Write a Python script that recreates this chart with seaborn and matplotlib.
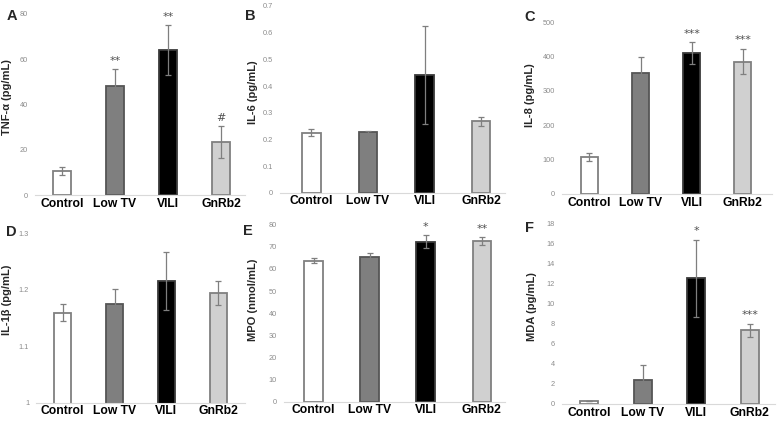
import matplotlib
matplotlib.use("Agg")
import matplotlib.pyplot as plt
import seaborn as sns
import pandas as pd

# groups shared by every panel
groups = ["Control", "Low TV", "VILI", "GnRb2"]

# A  TNF-a
tnf_mean = [10.7, 48.2, 64.1, 23.4]
tnf_err = [1.8, 7.5, 11.0, 7.0]
tnf_sig = ["", "**", "**", "#"]

# B  IL-6
il6_mean = [0.225, 0.227, 0.44, 0.268]
il6_err = [0.013, 0.006, 0.184, 0.017]
il6_sig = ["", "", "", ""]

# C  IL-8
il8_mean = [107.8, 351, 410.7, 385.4]
il8_err = [12, 48, 31, 37]
il8_sig = ["", "", "***", "***"]

# D  IL-1b
il1b_mean = [1.159, 1.175, 1.215, 1.194]
il1b_err = [0.015, 0.026, 0.051, 0.021]
il1b_sig = ["", "", "", ""]

# E  MPO
mpo_mean = [63.7, 65.4, 72.3, 72.6]
mpo_err = [1.1, 1.9, 2.9, 1.7]
mpo_sig = ["", "", "*", "**"]

# F  MDA
mda_mean = [0.3, 2.35, 12.5, 7.33]
mda_err = [0.0, 1.5, 3.85, 0.67]
mda_sig = ["", "", "*", "***"]

sns.set_style("white")
plt.rcParams['font.family'] = ['Liberation Sans', 'DejaVu Sans']

W, H = 778, 422
fig = plt.figure(figsize=(W / 100, H / 100), dpi=100)

fills = ["#ffffff", "#7f7f7f", "#000000", "#d0d0d0"]
edges = ["#808080", "#555555", "#3a3a3a", "#808080"]

# layout in pixels: left, right, top, bottom, first bar centre, bar spacing
panels = [
    dict(letter="A", ylabel="TNF-α (pg/mL)", mean=tnf_mean, err=tnf_err, sig=tnf_sig,
         ylim=(0, 80), ticks=[0, 20, 40, 60, 80],
         box=(35, 245, 14, 195), c0=62, s=53, lab=(7, 97), let=(12, 16)),
    dict(letter="B", ylabel="IL-6 (pg/mL)", mean=il6_mean, err=il6_err, sig=il6_sig,
         ylim=(0, 0.7), ticks=[0, 0.1, 0.2, 0.3, 0.4, 0.5, 0.6, 0.7],
         box=(280, 505, 6, 192.7), c0=311.3, s=56.6, lab=(253, 92), let=(250, 16)),
    dict(letter="C", ylabel="IL-8 (pg/mL)", mean=il8_mean, err=il8_err, sig=il8_sig,
         ylim=(0, 500), ticks=[0, 100, 200, 300, 400, 500],
         box=(562, 772, 22.3, 194), c0=589.3, s=51.2, lab=(530, 95), let=(530, 17)),
    dict(letter="D", ylabel="IL-1β (pg/mL)", mean=il1b_mean, err=il1b_err, sig=il1b_sig,
         ylim=(1, 1.3), ticks=[1, 1.1, 1.2, 1.3],
         box=(36, 245, 233.3, 402.7), c0=62.7, s=51.8, lab=(7, 300), let=(11, 232)),
    dict(letter="E", ylabel="MPO (nmol/mL)", mean=mpo_mean, err=mpo_err, sig=mpo_sig,
         ylim=(0, 80), ticks=[0, 10, 20, 30, 40, 50, 60, 70, 80],
         box=(284, 505, 224.7, 401.7), c0=313.5, s=56.1, lab=(253, 300), let=(248, 231)),
    dict(letter="F", ylabel="MDA (pg/mL)", mean=mda_mean, err=mda_err, sig=mda_sig,
         ylim=(0, 18), ticks=[0, 2, 4, 6, 8, 10, 12, 14, 16, 18],
         box=(562, 775, 223, 404), c0=589.3, s=53.5, lab=(532, 307), let=(530, 228)),
]

for p in panels:
    L, R, T, B = p["box"]
    ax = fig.add_axes([L / W, 1 - B / H, (R - L) / W, (B - T) / H])
    df = pd.DataFrame({"group": groups, "value": p["mean"]})
    sns.barplot(data=df, x="group", y="value", hue="group", palette=fills,
                width=0.33, errorbar=None, legend=False, ax=ax, linewidth=1.3,
                saturation=1)
    for patch, ec in zip(ax.patches, edges):
        patch.set_edgecolor(ec)
    ax.errorbar(range(len(groups)), p["mean"], yerr=p["err"], fmt="none",
                ecolor="#7f7f7f", elinewidth=0.9, capsize=2.2, capthick=0.9, zorder=5)
    tops = [m + e for m, e in zip(p["mean"], p["err"])]
    for i, lab in enumerate(p["sig"]):
        if lab:
            ax.annotate(lab, xy=(i, tops[i]), xytext=(0, 2.5), textcoords="offset points",
                        ha="center", va="bottom", fontsize=8, color="#505050",
                        family=["DejaVu Sans"])
    ax.set_xlim((L - p["c0"]) / p["s"], (R - p["c0"]) / p["s"])
    ax.set_ylim(*p["ylim"])
    ax.set_yticks(p["ticks"])
    ax.set_yticklabels([f"{t:g}" for t in p["ticks"]])
    ax.set_xlabel("")
    ax.set_ylabel("")
    for side in ["left", "top", "right"]:
        ax.spines[side].set_visible(False)
    ax.spines["bottom"].set_color("#d9d9d9")
    ax.spines["bottom"].set_linewidth(0.8)
    ax.tick_params(axis="y", length=0, pad=5, labelsize=5.3, labelcolor="#8c8c8c")
    ax.tick_params(axis="x", length=0, pad=2, labelsize=8.7, labelcolor="black")
    for t in ax.get_xticklabels():
        t.set_fontweight("bold")
    ax.patch.set_alpha(0)

    fig.text(p["lab"][0] / W, 1 - p["lab"][1] / H, p["ylabel"], rotation=90,
             ha="center", va="center", fontsize=8, fontweight="bold")
    fig.text(p["let"][0] / W, 1 - p["let"][1] / H, p["letter"],
             ha="center", va="center", fontsize=10.5, fontweight="bold")

fig.savefig("out.png", dpi=100)
